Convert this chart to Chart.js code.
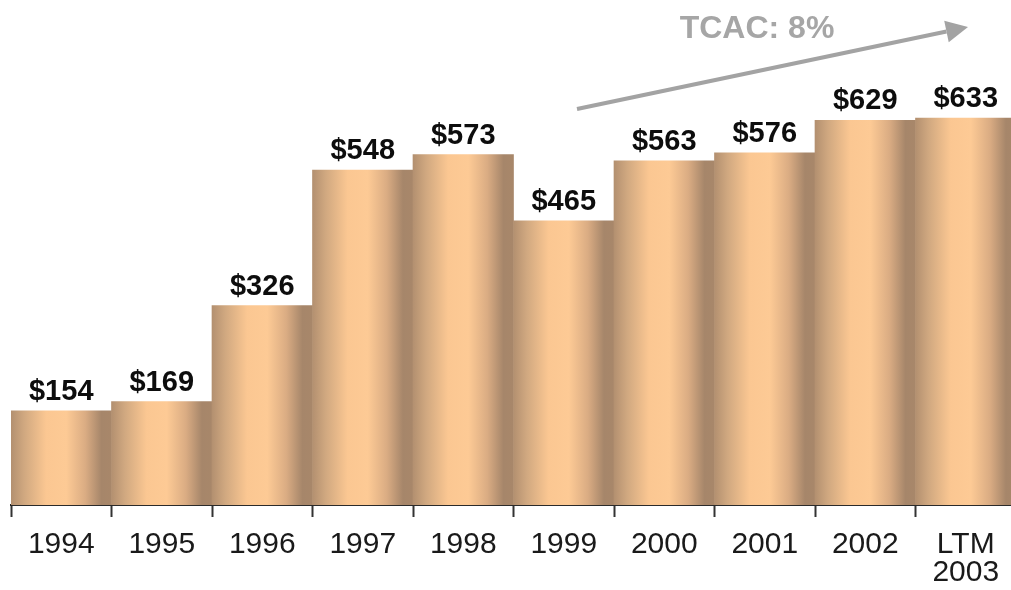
<!DOCTYPE html>
<html>
<head>
<meta charset="utf-8">
<script src="https://cdn.jsdelivr.net/npm/chart.js@4/dist/chart.umd.min.js"></script>
<style>
  html, body { margin: 0; padding: 0; background: #fff; overflow: hidden; }
  #wrap { width: 1011px; height: 590px; overflow: hidden; }
</style>
</head>
<body>
<div id="wrap"><canvas id="chart" width="1020" height="590"></canvas></div>
<script>
// Revenue by year, in millions
const years = ['1994', '1995', '1996', '1997', '1998', '1999', '2000', '2001', '2002', ['LTM', '2003']];
const revenue = [154, 169, 326, 548, 573, 465, 563, 576, 629, 633];
const growthLabel = 'TCAC: 8%';

const FONT = '"Liberation Sans", Arial, Helvetica, sans-serif';

// Horizontal shading for each bar: medium at left, light in the middle, dark at right
function barGradient(context) {
    const chart = context.chart;
    const area = chart.chartArea;
    if (!area) return '#f0c090';
    const w = (area.right - area.left) / years.length;
    const left = chart.scales.x.getPixelForValue(context.dataIndex) - w / 2;
    const g = chart.ctx.createLinearGradient(left, 0, left + w, 0);
    g.addColorStop(0, '#b39070');
    g.addColorStop(0.13, '#d0a880');
    g.addColorStop(0.35, '#fbc792');
    g.addColorStop(0.55, '#fdca95');
    g.addColorStop(0.74, '#daac83');
    g.addColorStop(0.9, '#a6866a');
    g.addColorStop(1, '#a8876a');
    return g;
}

// Dollar amounts above the bars, plus the growth arrow
const annotations = {
    id: 'annotations',
    afterDatasetsDraw(chart) {
        const ctx = chart.ctx;
        const bars = chart.getDatasetMeta(0).data;
        ctx.save();
        ctx.font = 'bold 29px ' + FONT;
        ctx.fillStyle = '#0d0d0d';
        ctx.textAlign = 'center';
        ctx.textBaseline = 'alphabetic';
        bars.forEach(function(bar, i) {
            ctx.fillText('$' + revenue[i], bar.x, bar.y - 11);
        });

        // growth arrow
        const x0 = 577, y0 = 109, x1 = 968, y1 = 27;
        const ang = Math.atan2(y1 - y0, x1 - x0);
        const headLen = 22, headHalf = 11;
        const bx = x1 - headLen * Math.cos(ang), by = y1 - headLen * Math.sin(ang);
        ctx.strokeStyle = '#a3a3a3';
        ctx.fillStyle = '#a3a3a3';
        ctx.lineWidth = 4;
        ctx.beginPath();
        ctx.moveTo(x0, y0);
        ctx.lineTo(bx, by);
        ctx.stroke();
        ctx.beginPath();
        ctx.moveTo(x1, y1);
        ctx.lineTo(bx + headHalf * Math.sin(ang), by - headHalf * Math.cos(ang));
        ctx.lineTo(bx - headHalf * Math.sin(ang), by + headHalf * Math.cos(ang));
        ctx.closePath();
        ctx.fill();

        ctx.font = 'bold 32px ' + FONT;
        ctx.fillStyle = '#a6a6a6';
        ctx.fillText(growthLabel, 757, 38);
        ctx.restore();
    }
};

new Chart(document.getElementById('chart'), {
    type: 'bar',
    data: {
        labels: years,
        datasets: [{
            data: revenue,
            backgroundColor: barGradient,
            borderWidth: 0,
            categoryPercentage: 1.0,
            barPercentage: 1.0
        }]
    },
    options: {
        responsive: false,
        animation: false,
        layout: { padding: { left: 11, right: 4, top: 0, bottom: 0 } },
        plugins: {
            legend: { display: false },
            tooltip: { enabled: false }
        },
        scales: {
            x: {
                afterFit: function(scale) { scale.height = 85; },
                grid: {
                    display: true,
                    drawOnChartArea: false,
                    drawTicks: true,
                    tickLength: 12,
                    tickWidth: 2,
                    tickColor: '#333',
                    offset: true
                },
                border: { display: true, color: '#2a2a2a', width: 2 },
                ticks: {
                    color: '#1a1a1a',
                    font: { family: FONT, size: 30, lineHeight: 0.93 },
                    padding: 14,
                    maxRotation: 0,
                    autoSkip: false
                }
            },
            y: {
                display: false,
                min: 0,
                max: 826
            }
        }
    },
    plugins: [annotations]
});
</script>
</body>
</html>
